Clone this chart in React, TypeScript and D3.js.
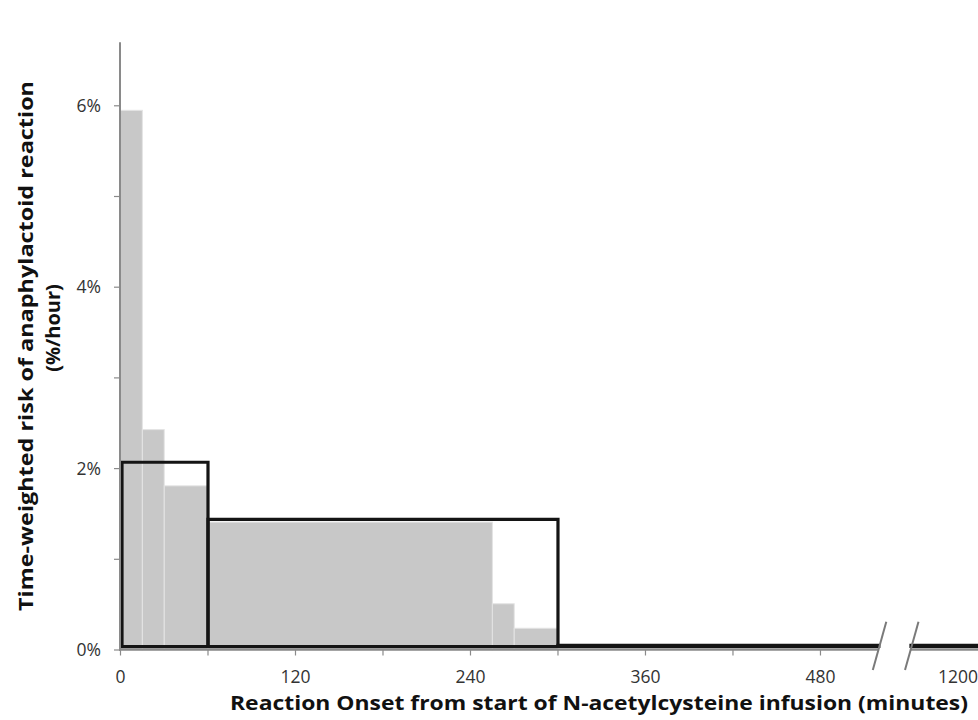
import React from "react";
import * as d3 from "d3";

// 15-minute (and longer) onset bins: grey histogram of time-weighted risk (%/hour)
const binStarts = [0, 15, 30, 60, 255, 270];
const binEnds = [15, 30, 60, 255, 270, 300];
const binRates = [5.95, 2.43, 1.81, 1.41, 0.51, 0.24];

// Infusion bag periods: black outlined boxes
const periodStarts = [0, 60, 300];
const periodEnds = [60, 300, 1230];
const periodRates = [2.07, 1.44, 0.05];

const yTickValues = [0, 1, 2, 3, 4, 5, 6];
const yLabelValues = [0, 2, 4, 6];
const xTickValues = [0, 60, 120, 180, 240, 300, 360, 420, 480];
const xLabelValues = [0, 120, 240, 360, 480, 1200];

const W = 978;
const H = 720;
const BREAK_LO = 520;
const BREAK_HI = 1180;

export default function App() {
  const x = d3
    .scaleLinear()
    .domain([0, BREAK_LO, BREAK_HI, 1200, 1230])
    .range([120.5, 878.8, 911, 958, 1014]);
  const y = d3.scaleLinear().domain([0, 6.7]).range([650, 42.3]);
  const yb = 646.5;
  const axisColor = "#8a8a8a";
  const lineColor = "#141414";
  const gapL = x(BREAK_LO);
  const gapR = x(BREAK_HI);

  const periodPaths: string[] = [];
  periodStarts.forEach((s, i) => {
    const e = periodEnds[i];
    const top = y(periodRates[i]);
    const segs: [number, number][] =
      s < BREAK_LO && e > BREAK_HI
        ? [
            [s, BREAK_LO],
            [BREAK_HI, e],
          ]
        : [[s, e]];
    segs.forEach(([a, b]) => {
      const x0 = a === 0 ? x(a) + 1.5 : x(a);
      const x1 = x(b);
      const p = d3.path();
      p.rect(x0, top, x1 - x0, yb - top);
      periodPaths.push(p.toString());
    });
  });

  return (
    <svg
      width={W}
      height={H}
      style={{ position: "absolute", left: 0, top: 0, background: "#fff" }}
      fontFamily="'Open Sans', sans-serif"
    >
      <rect x={0} y={0} width={W} height={H} fill="#fff" />
      {/* grey bars */}
      {binStarts.map((s, i) => (
        <rect
          key={"b" + i}
          x={x(s)}
          y={y(binRates[i])}
          width={x(binEnds[i]) - x(s)}
          height={y(0) - y(binRates[i])}
          fill="#c8c8c8"
          stroke="#e4e4e4"
          strokeWidth={1}
        />
      ))}
      {/* black period boxes */}
      {periodPaths.map((d, i) => (
        <path
          key={"p" + i}
          d={d}
          fill="none"
          stroke={lineColor}
          strokeWidth={3.2}
          strokeLinejoin="miter"
        />
      ))}
      {/* y axis */}
      <line x1={120} x2={120} y1={y(6.7)} y2={y(0) + 1} stroke={axisColor} strokeWidth={2} />
      {yTickValues.map((v) => (
        <line key={"yt" + v} x1={114} x2={120} y1={y(v)} y2={y(v)} stroke={axisColor} strokeWidth={1.2} />
      ))}
      {yLabelValues.map((v) => (
        <text
          key={"yl" + v}
          x={101}
          y={y(v)}
          dy="0.36em"
          textAnchor="end"
          fontSize={17.5}
          fill="#333"
        >
          {v + "%"}
        </text>
      ))}
      {/* x axis (broken) */}
      <line x1={119} x2={gapL} y1={649.5} y2={649.5} stroke={axisColor} strokeWidth={2.4} />
      <line x1={gapR} x2={W} y1={649.5} y2={649.5} stroke={axisColor} strokeWidth={2.4} />
      {xTickValues.map((v) => (
        <line key={"xt" + v} x1={x(v)} x2={x(v)} y1={650} y2={655.5} stroke={axisColor} strokeWidth={1.2} />
      ))}
      {xLabelValues.map((v) => (
        <text key={"xl" + v} x={x(v)} y={683} textAnchor="middle" fontSize={17.5} fill="#333">
          {v}
        </text>
      ))}
      {/* break marks */}
      <line x1={gapL - 6} x2={gapL + 7.5} y1={670} y2={621.7} stroke="#7a7a7a" strokeWidth={2} />
      <line x1={gapR - 6} x2={gapR + 7.5} y1={670} y2={621.7} stroke="#7a7a7a" strokeWidth={2} />
      {/* axis titles */}
      <text
        x={599}
        y={710}
        textAnchor="middle"
        fontSize={20}
        fontWeight="bold"
        fill="#111"
        textLength={738}
        lengthAdjust="spacingAndGlyphs"
      >
        Reaction Onset from start of N-acetylcysteine infusion (minutes)
      </text>
      <text
        transform="translate(33,346) rotate(-90)"
        textAnchor="middle"
        fontSize={20}
        fontWeight="bold"
        fill="#111"
        textLength={530}
        lengthAdjust="spacingAndGlyphs"
      >
        Time-weighted risk of anaphylactoid reaction
      </text>
      <text
        transform="translate(60,328) rotate(-90)"
        textAnchor="middle"
        fontSize={20}
        fontWeight="bold"
        fill="#111"
      >
        (%/hour)
      </text>
    </svg>
  );
}
